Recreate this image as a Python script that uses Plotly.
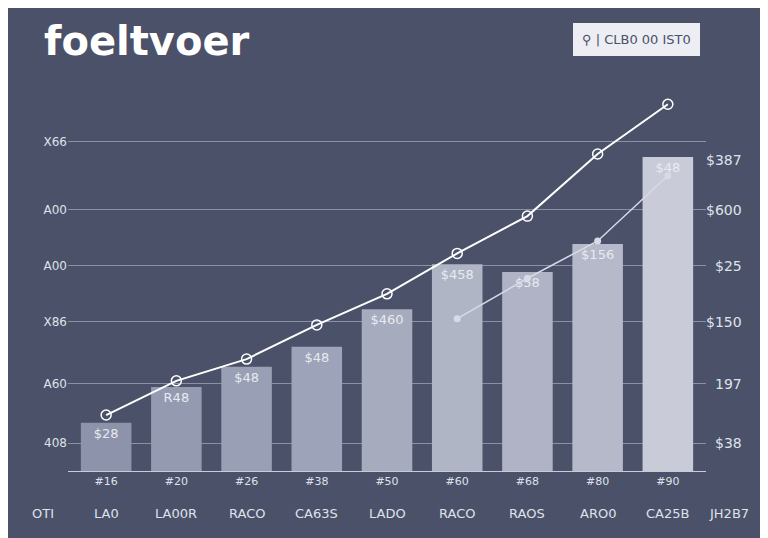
import plotly.graph_objects as go

categories = ["#16", "#20", "#26", "#38", "#50", "#60", "#68", "#80", "#90"]
bottom_labels = ["LA0", "LA00R", "RACO", "CA63S", "LADO", "RACO", "RAOS", "ARO0", "CA25B"]
bar_values = [15.5, 27, 33.5, 40, 52, 66.5, 64, 73, 101]
bar_text = ["$28", "R48", "$48", "$48", "$460", "$458", "$58", "$156", "$48"]
line1_values = [18, 29, 36, 47, 57, 70, 82, 102, 118]
line2_values = [None, None, None, None, None, 49, 62, 74, 95]
left_ticks = [9, 28, 48, 66, 84, 106]
left_labels = ["408", "A60", "X86", "A00", "A00", "X66"]
right_ticks = [9, 28, 48, 66, 84, 100]
right_labels = ["$38", "197", "$150", "$25", "$600", "$387"]

bg = "#4b5169"
fig = go.Figure()
fig.add_bar(x=categories, y=bar_values, text=bar_text, textposition="inside",
            insidetextanchor="end", textfont=dict(color="#e8eaf0", size=13),
            marker=dict(color=bar_values, colorscale=[[0, "#8c93ab"], [1, "#c9ccd8"]],
                        line=dict(width=0)), width=0.72, name="bars")
fig.add_scatter(x=categories, y=line1_values, mode="lines+markers",
                line=dict(color="white", width=2),
                marker=dict(size=10, color="rgba(0,0,0,0)", line=dict(color="white", width=1.5)),
                name="A")
fig.add_scatter(x=categories, y=line2_values, mode="lines+markers",
                line=dict(color="#d8dbe6", width=1.5),
                marker=dict(size=7, color="#d8dbe6"), name="B")
for c, lab in zip(categories, bottom_labels):
    fig.add_annotation(x=c, y=-0.14, yref="paper", text=lab, showarrow=False,
                       font=dict(color="#dfe2ea", size=13))
fig.add_annotation(x=-0.06, y=-0.14, xref="paper", yref="paper", text="OTI", showarrow=False,
                   font=dict(color="#dfe2ea", size=13))
fig.add_annotation(x=1.07, y=-0.14, xref="paper", yref="paper", text="JH2B7", showarrow=False,
                   font=dict(color="#dfe2ea", size=13))
for t, lab in zip(right_ticks, right_labels):
    fig.add_annotation(x=1.06, xref="paper", y=t, text=lab, showarrow=False,
                       font=dict(color="#dfe2ea", size=14))
fig.add_annotation(x=-0.04, y=1.22, xref="paper", yref="paper", text="<b>foeltvoer</b>",
                   showarrow=False, xanchor="left", font=dict(color="white", size=40, family="DejaVu Sans"))
fig.add_annotation(x=0.99, y=1.2, xref="paper", yref="paper", text="⚲ | CLB0 00 IST0",
                   showarrow=False, bgcolor="#eceef3", borderpad=8, bordercolor="#eceef3",
                   font=dict(color="#4b5169", size=13))
fig.update_layout(
    width=768, height=538, paper_bgcolor=bg, plot_bgcolor=bg,
    margin=dict(l=60, r=70, t=90, b=75), showlegend=False, bargap=0.3,
    font=dict(family="DejaVu Sans", color="#dfe2ea"),
    xaxis=dict(showgrid=False, showline=True, linecolor="#c8ccd8", tickfont=dict(size=11)),
    yaxis=dict(range=[0, 120], tickvals=left_ticks, ticktext=left_labels,
               gridcolor="#8a90a6", zeroline=False, tickfont=dict(size=12)),
)
fig.write_html("out.html")
